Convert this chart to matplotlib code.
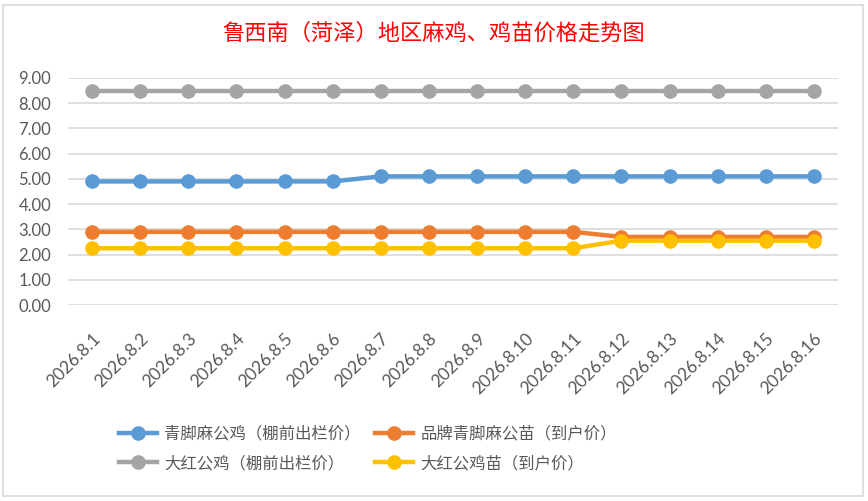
import matplotlib.pyplot as plt
import numpy as np
from matplotlib.patches import Rectangle

plt.rcParams['font.family'] = ['Lato', 'Noto Sans CJK SC', 'DejaVu Sans']

dates = ["2026.8.%d" % d for d in range(1, 17)]
qingjiao_ji = [4.9] * 6 + [5.1] * 10          # 青脚麻公鸡（棚前出栏价）
pinpai_miao = [2.9] * 11 + [2.7] * 5          # 品牌青脚麻公苗（到户价）
dahong_ji = [8.5] * 16                        # 大红公鸡（棚前出栏价）
dahong_miao = [2.25] * 11 + [2.55] * 5        # 大红公鸡苗（到户价）

names = ["青脚麻公鸡（棚前出栏价）", "品牌青脚麻公苗（到户价）",
         "大红公鸡（棚前出栏价）", "大红公鸡苗（到户价）"]
colors = ["#5B9BD5", "#ED7D31", "#A5A5A5", "#FFC000"]
series = [qingjiao_ji, pinpai_miao, dahong_ji, dahong_miao]

fig = plt.figure(figsize=(8.68, 5.01), dpi=100)
fig.patches.append(Rectangle((3 / 868, 5 / 501), 860 / 868, 491 / 501,
                             transform=fig.transFigure, fill=False,
                             edgecolor="#D9D9D9", linewidth=1.2))
ax = fig.add_axes([68 / 868, 196 / 501, 770 / 868, 227 / 501])

x = np.arange(len(dates))
lines = []
for vals, name, c in zip(series, names, colors):
    ln, = ax.plot(x, vals, color=c, linewidth=3.2, marker='o', markersize=9.5,
                  label=name, zorder=3)
    lines.append(ln)

ax.set_xlim(-0.5, len(dates) - 0.5)
ax.set_ylim(0, 9)
ax.set_yticks(np.arange(0, 10, 1))
ax.set_yticklabels(["%.2f" % v for v in np.arange(0, 10, 1)])
ax.grid(axis='y', color="#D9D9D9", linewidth=1.2)
ax.set_axisbelow(True)
for s in ax.spines.values():
    s.set_visible(False)
ax.tick_params(length=0, labelsize=12, labelcolor="#595959")
ax.tick_params(axis='y', pad=12)
ax.set_xticks(x)
ax.set_xticklabels(dates, rotation=45, ha='right', rotation_mode='anchor')
ax.tick_params(axis='x', pad=18, labelsize=12.5)

fig.text(0.5, 1 - 33 / 501, "鲁西南（菏泽）地区麻鸡、鸡苗价格走势图", color="red",
         fontsize=16, ha='center', va='center',
         family=['Noto Sans CJK SC', 'DejaVu Sans'])

order = [0, 2, 1, 3]
leg = fig.legend([lines[i] for i in order], [names[i] for i in order],
                 ncol=2, loc='center', bbox_to_anchor=(368 / 868, 1 - 449 / 501),
                 frameon=False, handlelength=2.3,
                 columnspacing=0.9, handletextpad=0.45, labelspacing=0.75,
                 prop={'family': ['Noto Sans CJK SC', 'DejaVu Sans'], 'size': 11.8})
for t in leg.get_texts():
    t.set_color("#595959")

fig.savefig("out.png", dpi=100)
